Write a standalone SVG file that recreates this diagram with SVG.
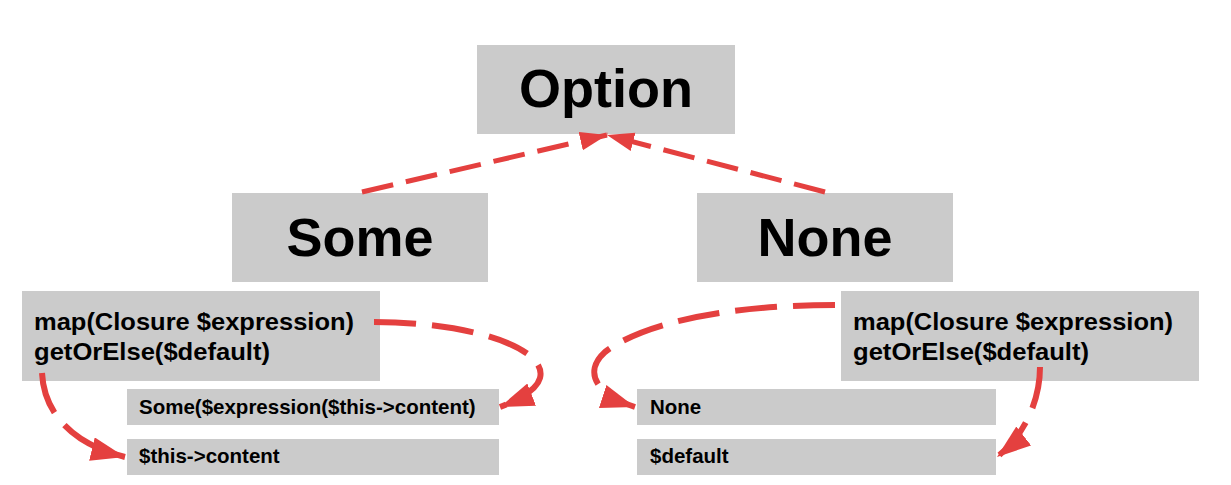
<svg xmlns="http://www.w3.org/2000/svg" width="1231" height="485" viewBox="0 0 1231 485">
<defs>
<style>
.box{fill:#cbcbcb}
.t{font-family:"Liberation Sans",Arial,Helvetica,sans-serif;font-weight:bold;fill:#000}
.big{font-size:54px;text-anchor:middle}
.mid{font-size:24px}
.sm{font-size:20.5px}
.c{fill:none;stroke:#e4403f;stroke-width:6;stroke-dasharray:42 16}
.l{fill:none;stroke:#e4403f;stroke-width:5;stroke-dasharray:32 13}
</style>
<marker id="ah" markerUnits="userSpaceOnUse" markerWidth="36" markerHeight="26" refX="34" refY="12" orient="auto">
<path d="M0,0 L34,12 L0,24 z" fill="#e4403f"/>
</marker>
<marker id="ahs" markerUnits="userSpaceOnUse" markerWidth="29" markerHeight="21" refX="27" refY="9.5" orient="auto">
<path d="M0,0 L27,9.5 L0,19 z" fill="#e4403f"/>
</marker>
</defs>
<rect width="1231" height="485" fill="#fff"/>

<g id="option">
<rect class="box" x="477" y="45" width="258" height="89"/>
<text class="t big" x="606" y="107" font-size="53">Option</text>
</g>
<g id="some">
<rect class="box" x="232" y="193" width="256" height="89"/>
<text class="t big" x="360" y="256">Some</text>
</g>
<g id="none">
<rect class="box" x="697" y="193" width="256" height="89"/>
<text class="t big" x="825" y="256">None</text>
</g>
<g id="some-methods">
<rect class="box" x="22" y="291" width="358" height="90"/>
<text class="t mid" x="34" y="330" textLength="320" lengthAdjust="spacingAndGlyphs">map(Closure $expression)</text>
<text class="t mid" x="34" y="360" textLength="236" lengthAdjust="spacingAndGlyphs">getOrElse($default)</text>
</g>
<g id="none-methods">
<rect class="box" x="841" y="291" width="358" height="90"/>
<text class="t mid" x="853" y="330" textLength="320" lengthAdjust="spacingAndGlyphs">map(Closure $expression)</text>
<text class="t mid" x="853" y="360" textLength="236" lengthAdjust="spacingAndGlyphs">getOrElse($default)</text>
</g>
<g id="some-map-result">
<rect class="box" x="127" y="389" width="372" height="36"/>
<text class="t sm" x="139" y="414">Some($expression($this-&gt;content)</text>
</g>
<g id="some-get-result">
<rect class="box" x="127" y="439" width="372" height="36"/>
<text class="t sm" x="139" y="463">$this-&gt;content</text>
</g>
<g id="none-map-result">
<rect class="box" x="637" y="389" width="359" height="36"/>
<text class="t sm" x="650" y="414">None</text>
</g>
<g id="none-get-result">
<rect class="box" x="637" y="439" width="359" height="36"/>
<text class="t sm" x="650" y="463">$default</text>
</g>

<g id="connectors">
<path class="l" d="M362,192 L607,135" marker-end="url(#ahs)"/>
<path class="l" d="M825,192 L607,135" marker-end="url(#ahs)"/>
<path class="c" d="M374,322 C470,322 548,348 540,378 Q536,393 500,407" marker-end="url(#ah)"/>
<path class="c" d="M42,373 C44,415 75,445 125,457" marker-end="url(#ah)"/>
<path class="c" d="M835,305 C720,305 640,325 605,352 C585,370 592,393 635,407" marker-end="url(#ah)"/>
<path class="c" d="M1040,367 C1040,400 1025,435 997,457" marker-end="url(#ah)"/>
</g>
</svg>
